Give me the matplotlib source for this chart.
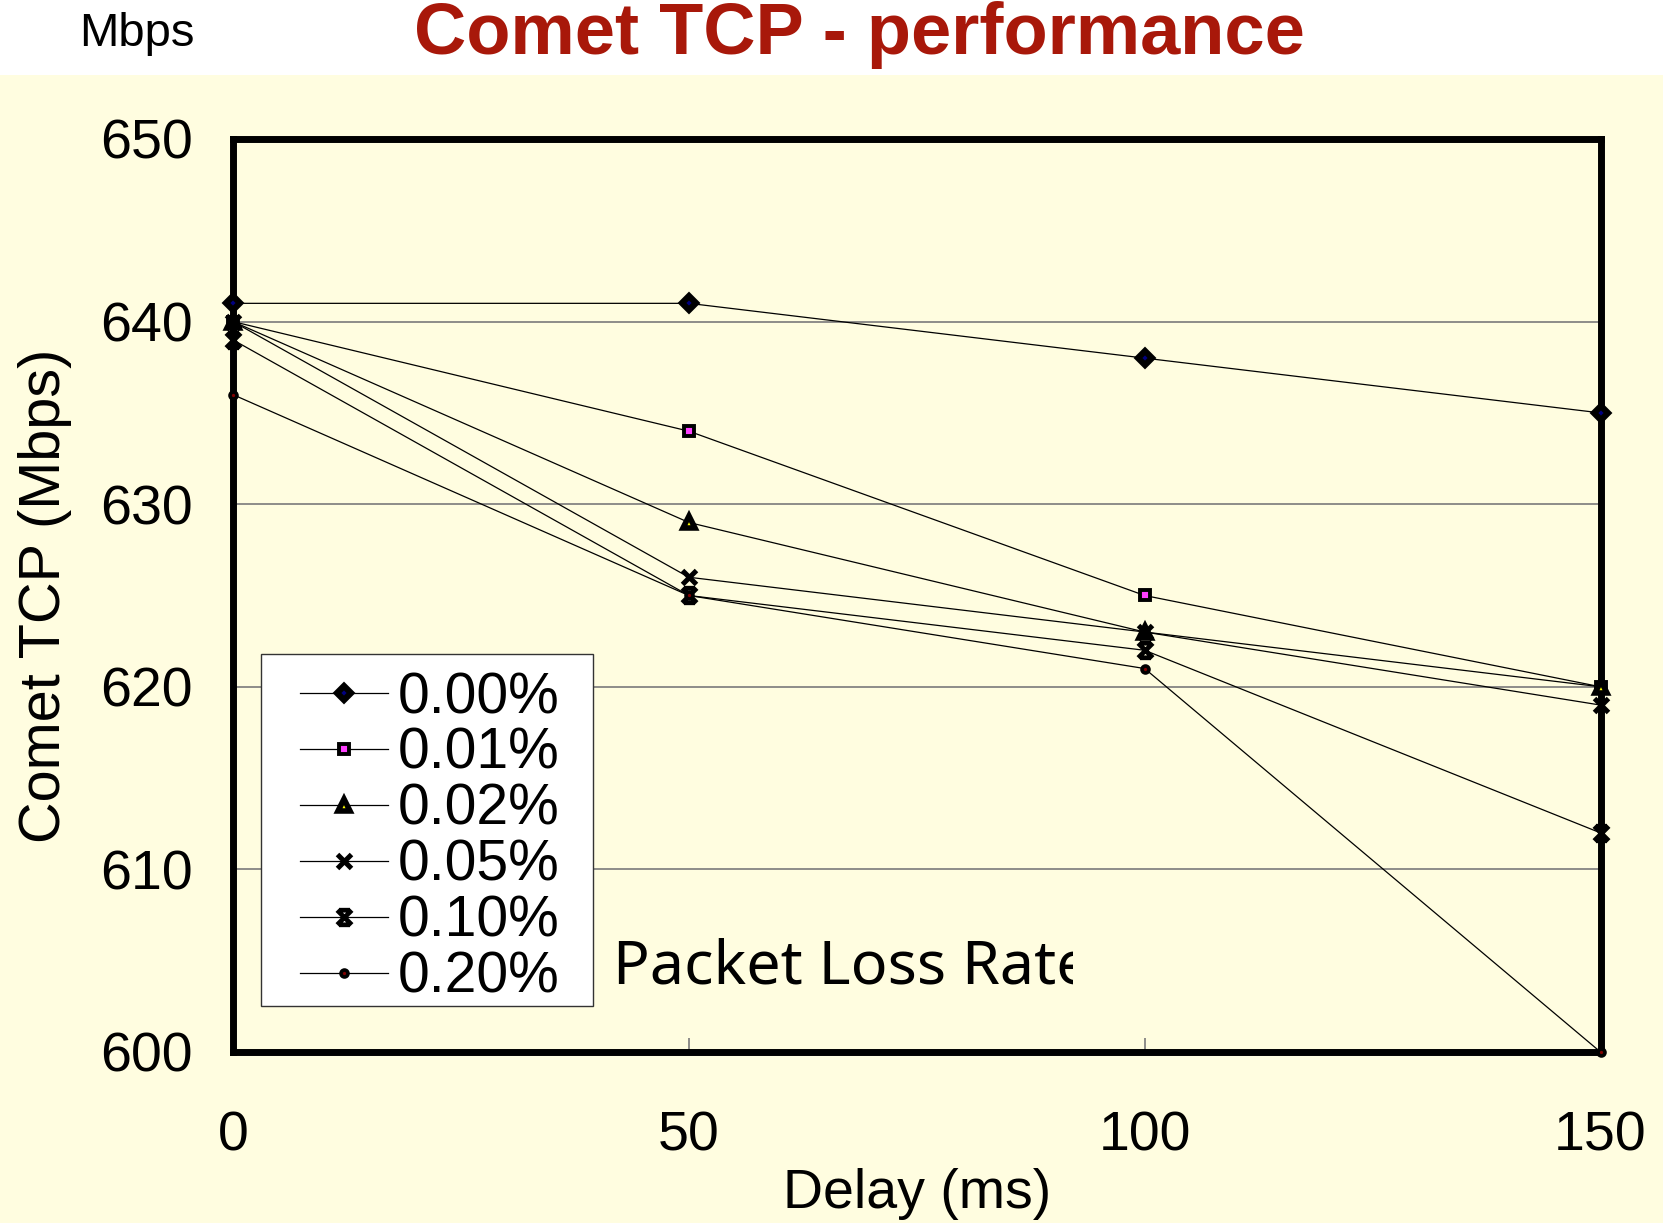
import numpy as np
import matplotlib
matplotlib.use('Agg')
import matplotlib.pyplot as plt
from matplotlib.path import Path
from matplotlib.patches import Rectangle
from matplotlib.transforms import Bbox, TransformedBbox

# data
delay     = [0, 50, 100, 150]
loss_000  = [641, 641, 638, 635]
loss_001  = [640, 634, 625, 620]
loss_002  = [640, 629, 623, 620]
loss_005  = [640, 626, 623, 619]
loss_010  = [639, 625, 622, 612]
loss_020  = [636, 625, 621, 600]
labels    = ['0.00%', '0.01%', '0.02%', '0.05%', '0.10%', '0.20%']
yticks    = [600, 610, 620, 630, 640, 650]
xticks    = [0, 50, 100, 150]

# plot style
bg = '#FFFDE0'
plt.rcParams['font.family'] = ['Liberation Sans', 'DejaVu Sans']

# X with flat bars top and bottom (Excel star marker)
star = Path([(-1, -1), (1, 1), (-1, 1), (1, -1), (-0.75, 1), (0.75, 1), (-0.75, -1), (0.75, -1)],
            [Path.MOVETO, Path.LINETO] * 4)

series = [loss_000, loss_001, loss_002, loss_005, loss_010, loss_020]
marker = ['D', 's', '^', 'x', star, 'o']
mface  = ['#000080', '#FF40FF', '#FFFF00', 'black', 'none', '#800000']
msize  = [7.5, 7.5, 8.5, 10, 10.5, 5]
mew    = [4.5, 2.8, 4.0, 3.6, 3.4, 2.6]

fig = plt.figure(figsize=(16.63, 12.23), dpi=100, facecolor=bg)
fig.add_artist(Rectangle((0, 1 - 75/1223.), 1, 75/1223., transform=fig.transFigure,
                         facecolor='white', edgecolor='none', zorder=0))
ax = fig.add_axes([233/1663., 1 - 1052/1223., 1367.5/1663., 913/1223.])
ax.set_facecolor(bg)

for i in range(len(series)):
    ax.plot(delay, series[i], color='black', lw=0.9, marker=marker[i], ms=msize[i],
            mfc=mface[i], mec='black', mew=mew[i], label=labels[i],
            clip_on=False, zorder=3)

ax.set_xlim(0, 150)
ax.set_ylim(600, 650)
ax.set_xticks(xticks)
ax.set_yticks(yticks)
ax.set_axisbelow(True)
ax.yaxis.grid(True, color='#7a7a7a', lw=1.2)
ax.tick_params(axis='x', direction='in', length=10, width=1.2, color='#7a7a7a',
               labelsize=40, pad=42)
ax.tick_params(axis='y', length=0, labelsize=40, pad=29)
for s in ax.spines.values():
    s.set_linewidth(5)
    s.set_color('black')

# axis labels
ax.set_xlabel('Delay (ms)', fontsize=40)
ax.xaxis.label.set_va('baseline')
ax.xaxis.set_label_coords(917/1663., 1 - 1208/1223., transform=fig.transFigure)
ax.set_ylabel('Comet TCP (Mbps)', fontsize=41.5)
ax.yaxis.label.set_va('center')
ax.yaxis.set_label_coords(45/1663., 1 - 596/1223., transform=fig.transFigure)

# legend with hand-placed box
fig.add_artist(Rectangle((261/1663., 1 - 1006/1223.), 332/1663., 352/1223.,
                         transform=fig.transFigure, facecolor='white',
                         edgecolor='#333333', lw=1.0, zorder=4))
leg = fig.legend(loc='upper left', bbox_to_anchor=(300/1663., 1 - 671/1223.),
                 frameon=False, fontsize=41, numpoints=1, borderpad=0,
                 borderaxespad=0, handlelength=1.55, handletextpad=0.17,
                 labelspacing=0.035)
leg.set_zorder(5)

t = fig.text(613/1663., 1 - 984/1223., 'Packet Loss Rate', fontsize=44,
             family=['Noto Sans', 'DejaVu Sans'], va='baseline', ha='left', zorder=6)
t.set_clip_box(TransformedBbox(Bbox.from_extents(0, 0, 1073/1663., 1), fig.transFigure))
t.set_clip_on(True)

# header texts
fig.text(79/1663., 1 - 46/1223., 'Mbps', fontsize=34, va='baseline', ha='left', zorder=6)
fig.text(859/1663., 1 - 54/1223., 'Comet TCP - performance', fontsize=52,
         fontweight='bold', color='#A8180A', va='baseline', ha='center', zorder=6)

fig.savefig('out.png', dpi=100, facecolor=bg)
